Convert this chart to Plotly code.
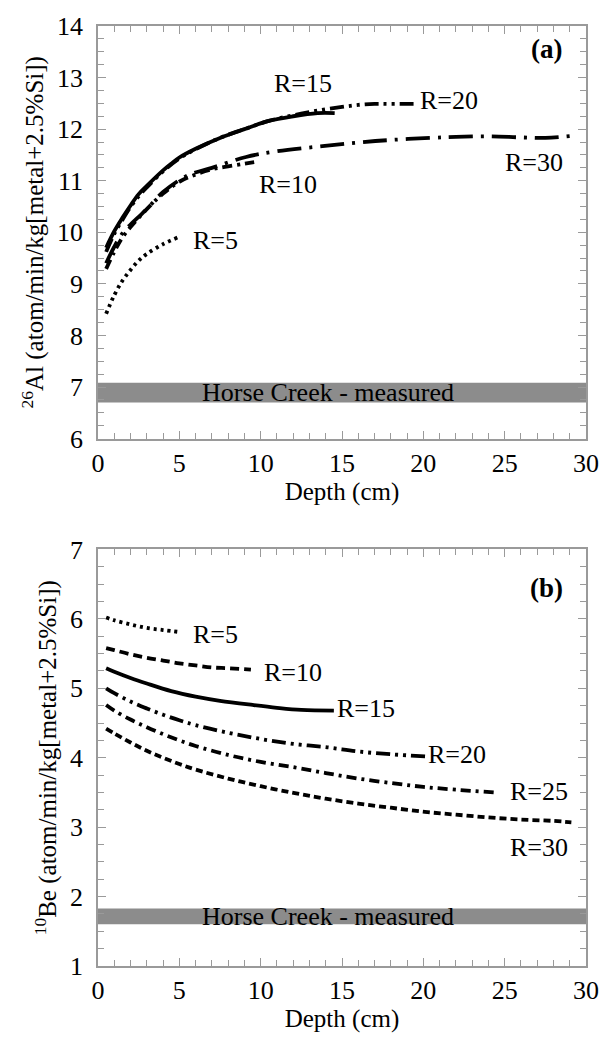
import plotly.graph_objects as go

# ---- Panel (a): 26Al ----
a_r5_x = [0.5, 1, 1.5, 2, 2.5, 3, 4, 4.9]
a_r5_y = [8.42, 8.78, 9.06, 9.27, 9.45, 9.58, 9.77, 9.9]
a_r10_x = [0.5, 1, 1.5, 2, 2.5, 3, 4, 5, 6, 7, 8, 9, 9.6]
a_r10_y = [9.29, 9.62, 9.9, 10.1, 10.28, 10.45, 10.75, 10.98, 11.12, 11.22, 11.28, 11.33, 11.36]
a_r15_x = [0.5, 1, 1.5, 2, 2.5, 3, 4, 4.5, 5, 6, 7.5, 9, 10.5, 12, 13.5, 14.55]
a_r15_y = [9.7, 10.02, 10.28, 10.52, 10.74, 10.9, 11.2, 11.33, 11.45, 11.62, 11.83, 12.0, 12.16, 12.25, 12.31, 12.31]
a_r20_x = [0.5, 1, 1.5, 2, 2.5, 3, 4, 5, 6, 7.5, 9, 10.5, 12, 13.5, 15, 16, 17, 18, 19.4]
a_r20_y = [9.62, 9.97, 10.24, 10.49, 10.7, 10.87, 11.18, 11.43, 11.61, 11.83, 12.0, 12.16, 12.27, 12.36, 12.43, 12.47, 12.49, 12.49, 12.49]
a_r30_x = [0.5, 1, 1.5, 2, 2.5, 3, 4, 5.5, 7, 9.1, 11, 13.8, 16, 18, 20.4, 22, 24, 26, 27.5, 29.1]
a_r30_y = [9.4, 9.72, 9.98, 10.15, 10.3, 10.45, 10.78, 11.1, 11.25, 11.46, 11.57, 11.67, 11.74, 11.79, 11.83, 11.85, 11.86, 11.84, 11.83, 11.87]
a_band = [6.7, 7.08]

# ---- Panel (b): 10Be ----
b_r5_x = [0.5, 1, 2, 3, 4, 5.05]
b_r5_y = [6.02, 5.98, 5.92, 5.87, 5.84, 5.81]
b_r10_x = [0.5, 1, 2, 3, 4, 5, 6, 7, 8, 9.4]
b_r10_y = [5.58, 5.55, 5.49, 5.44, 5.4, 5.36, 5.33, 5.3, 5.29, 5.27]
b_r15_x = [0.5, 1, 2, 3, 4.5, 6, 7.5, 9.5, 11, 12.5, 14.5]
b_r15_y = [5.29, 5.24, 5.15, 5.07, 4.96, 4.88, 4.82, 4.76, 4.72, 4.69, 4.68]
b_r20_x = [0.5, 1, 2, 3, 4, 5, 6, 8, 10, 12, 14.1, 16, 18, 20.15]
b_r20_y = [5.0, 4.93, 4.81, 4.71, 4.62, 4.54, 4.47, 4.36, 4.27, 4.2, 4.15, 4.09, 4.05, 4.02]
b_r25_x = [0.5, 1, 2, 3, 4, 5, 6, 8, 10, 12.1, 14, 16, 18.2, 20, 22, 24.4]
b_r25_y = [4.76, 4.68, 4.55, 4.44, 4.34, 4.25, 4.17, 4.04, 3.94, 3.86, 3.78, 3.7, 3.63, 3.58, 3.54, 3.5]
b_r30_x = [0.5, 1, 2, 3, 4, 5, 6, 8, 10, 12.1, 14, 16, 18, 20.1, 22, 24, 26, 28, 29.1]
b_r30_y = [4.42, 4.35, 4.22, 4.1, 4.0, 3.91, 3.83, 3.7, 3.59, 3.49, 3.41, 3.34, 3.28, 3.22, 3.18, 3.14, 3.11, 3.09, 3.07]
b_band = [1.6, 1.83]

x_ticks = [0, 5, 10, 15, 20, 25, 30]
a_ticks = [6, 7, 8, 9, 10, 11, 12, 13, 14]
b_ticks = [1, 2, 3, 4, 5, 6, 7]

FONT = "Liberation Serif"
fig = go.Figure()

def add(x, y, dash, xa, ya, w=3.8):
    fig.add_trace(go.Scatter(x=x, y=y, mode="lines", xaxis=xa, yaxis=ya,
                             line=dict(color="black", width=w, dash=dash, shape="spline"),
                             showlegend=False, hoverinfo="skip"))

DOT = "3px,4px"
DASH = "9px,5px"
SDASH = "7px,4px"
DASHDOT = "10px,5px,3px,5px"
DASHDOTDOT = "14px,5px,3px,5px,3px,5px"
LONGDASHDOT = "24px,8px,3px,8px"

add(a_r5_x, a_r5_y, DOT, "x", "y")
add(a_r10_x, a_r10_y, DASHDOT, "x", "y")
add(a_r30_x, a_r30_y, LONGDASHDOT, "x", "y")
add(a_r20_x, a_r20_y, DASHDOTDOT, "x", "y")
add(a_r15_x, a_r15_y, "solid", "x", "y")

add(b_r5_x, b_r5_y, DOT, "x2", "y2")
add(b_r10_x, b_r10_y, DASH, "x2", "y2")
add(b_r15_x, b_r15_y, "solid", "x2", "y2")
add(b_r20_x, b_r20_y, DASHDOTDOT, "x2", "y2")
add(b_r25_x, b_r25_y, DASHDOT, "x2", "y2")
add(b_r30_x, b_r30_y, SDASH, "x2", "y2")

shapes = [
    dict(type="rect", xref="x", yref="y", x0=0, x1=30, y0=a_band[0], y1=a_band[1],
         fillcolor="#8c8c8c", line=dict(width=0), layer="below"),
    dict(type="rect", xref="x2", yref="y2", x0=0, x1=30, y0=b_band[0], y1=b_band[1],
         fillcolor="#8c8c8c", line=dict(width=0), layer="below"),
]

def ann(x, y, t, xr, yr, bold=False, size=26):
    return dict(x=x, y=y, xref=xr, yref=yr, text=("<b>%s</b>" % t) if bold else t,
                showarrow=False, font=dict(family=FONT, size=size, color="black"))

annotations = [
    ann(14.15, 6.89, "Horse Creek - measured", "x", "y"),
    ann(12.6, 12.88, "R=15", "x", "y"),
    ann(21.6, 12.56, "R=20", "x", "y"),
    ann(26.8, 11.35, "R=30", "x", "y"),
    ann(11.7, 10.92, "R=10", "x", "y"),
    ann(7.2, 9.85, "R=5", "x", "y"),
    ann(27.6, 13.55, "(a)", "x", "y", bold=True, size=27),
    ann(14.15, 1.72, "Horse Creek - measured", "x2", "y2"),
    ann(7.2, 5.78, "R=5", "x2", "y2"),
    ann(12.0, 5.23, "R=10", "x2", "y2"),
    ann(16.5, 4.71, "R=15", "x2", "y2"),
    ann(22.1, 4.04, "R=20", "x2", "y2"),
    ann(27.1, 3.52, "R=25", "x2", "y2"),
    ann(27.1, 2.7, "R=30", "x2", "y2"),
    ann(27.6, 6.45, "(b)", "x2", "y2", bold=True, size=27),
]

AX = dict(showgrid=False, zeroline=False, showline=True, linecolor="#9a9a9a", linewidth=1.5,
          mirror="allticks", ticks="inside", ticklen=8, tickcolor="#9a9a9a", tickwidth=1.2,
          tickfont=dict(family=FONT, size=26, color="black"))
TF = dict(family=FONT, size=25, color="black")

fig.update_layout(
    width=611, height=1040, plot_bgcolor="white", paper_bgcolor="white",
    margin=dict(l=98, r=14, t=25, b=74),
    shapes=shapes, annotations=annotations,
    xaxis=dict(AX, domain=[0, 1], range=[0, 30], tickvals=x_ticks, anchor="y", ticklabelstandoff=0,
               minor=dict(dtick=1, ticks="inside", ticklen=6, tickcolor="#9a9a9a"),
               title=dict(text="Depth (cm)", font=TF, standoff=4)),
    yaxis=dict(AX, domain=[0.5611, 1], range=[6, 14], tickvals=a_ticks, anchor="x", ticklabelstandoff=8,
               minor=dict(dtick=0.25, ticks="inside", ticklen=6, tickcolor="#9a9a9a"),
               title=dict(text="<sup>26</sup>Al (atom/min/kg[metal+2.5%Si])", font=TF, standoff=6)),
    xaxis2=dict(AX, domain=[0, 1], range=[0, 30], tickvals=x_ticks, anchor="y2", ticklabelstandoff=0,
                minor=dict(dtick=1, ticks="inside", ticklen=6, tickcolor="#9a9a9a"),
                title=dict(text="Depth (cm)", font=TF, standoff=4)),
    yaxis2=dict(AX, domain=[0, 0.4431], range=[1, 7], tickvals=b_ticks, anchor="x2", ticklabelstandoff=8,
                minor=dict(dtick=0.25, ticks="inside", ticklen=6, tickcolor="#9a9a9a"),
                title=dict(text="<sup>10</sup>Be (atom/min/kg[metal+2.5%Si])", font=TF, standoff=6)),
)

fig.write_html("out.html")
